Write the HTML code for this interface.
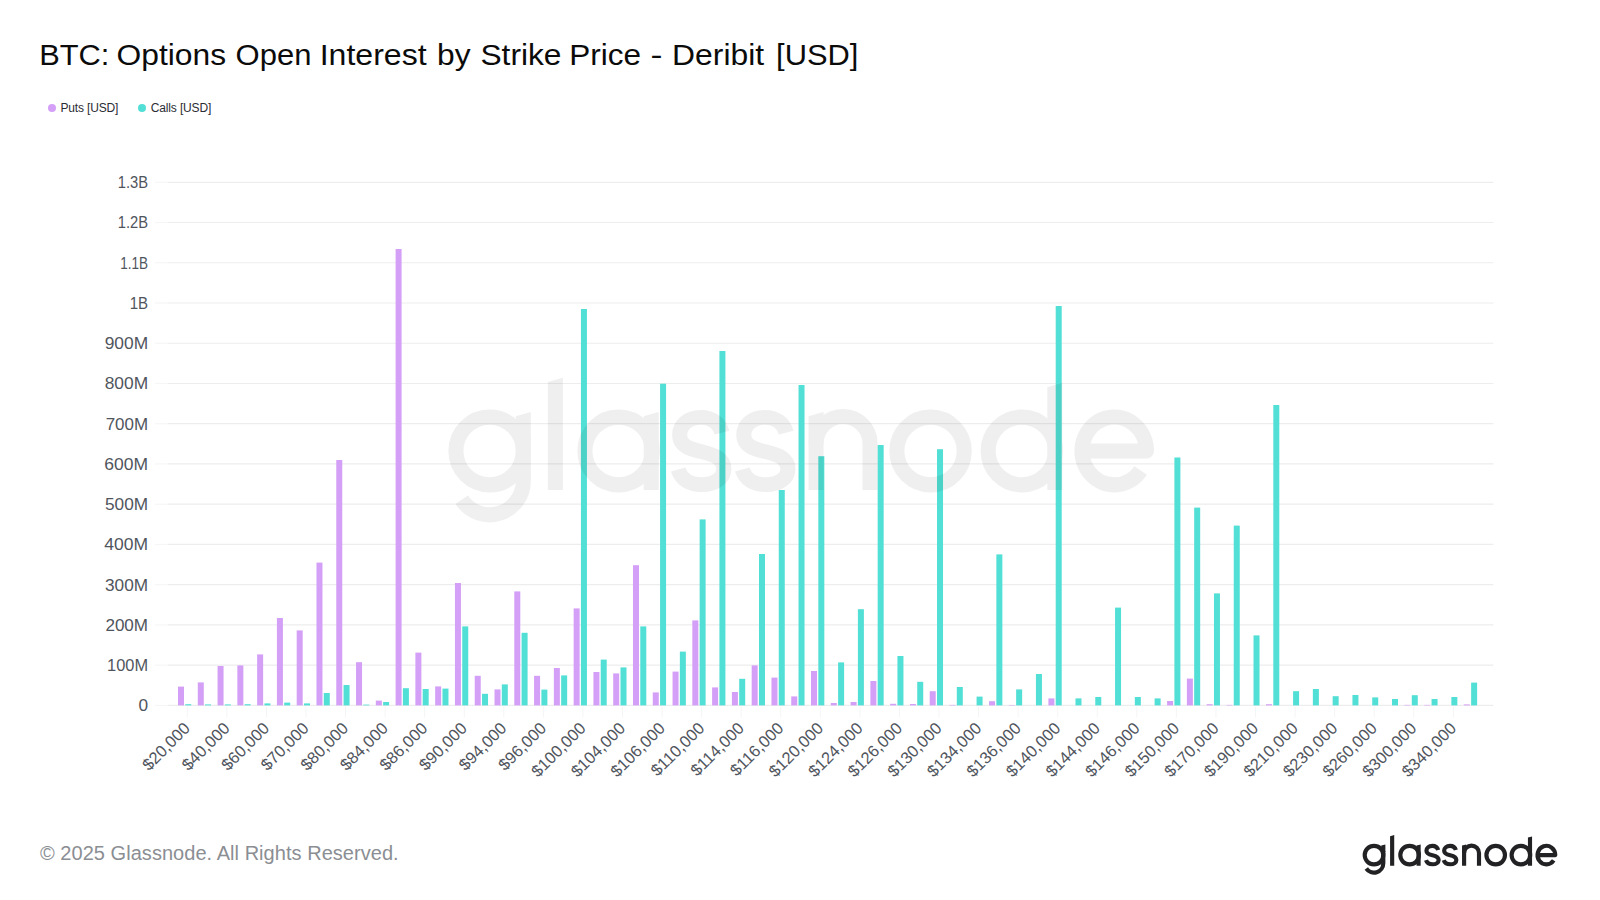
<!DOCTYPE html><html><head><meta charset="utf-8"><title>BTC: Options Open Interest by Strike Price</title>
<style>html,body{margin:0;padding:0;background:#fff;}body{width:1600px;height:900px;overflow:hidden;}svg{display:block;}text{font-family:"Liberation Sans",sans-serif;}</style></head><body>
<svg width="1600" height="900" viewBox="0 0 1600 900">
<defs><g id="wm" fill="none" stroke="currentColor" stroke-width="4.15" stroke-linecap="butt" stroke-linejoin="round"><circle cx="1374.0" cy="855.1" r="9.3"/>
<path fill="currentColor" stroke="none" d="M1381.23,845.6 L1385.37,844.4 V852 H1381.23 Z"/>
<path d="M1383.3,851 V863.3 A9.3,9.3 0 0 1 1366.29,868.50"/>
<path fill="currentColor" stroke="none" d="M1390.0800000000002,836.2 L1394.22,835.0 V865.8 H1390.0800000000002 Z"/>
<circle cx="1409.6" cy="855.1" r="9.3"/>
<path fill="currentColor" stroke="none" d="M1416.53,845.6 L1420.6699999999998,844.4 V865.8 H1416.53 Z"/>
<path transform="translate(-0.15,23.943) scale(1,0.972)" d="M1438.3,849.9 C1437.6,847.3 1435.5,845.6 1432.5,845.6 C1429.0,845.6 1426.6,847.7 1426.6,850.6 C1426.6,853.4 1428.8,854.4 1432.6,855.3 C1436.6,856.3 1438.8,857.4 1438.8,860.1 C1438.8,862.8 1436.3,864.6 1432.7,864.6 C1429.4,864.6 1427.0,863.1 1426.2,860.3"/>
<path transform="translate(17.55,23.943) scale(1,0.972)" d="M1438.3,849.9 C1437.6,847.3 1435.5,845.6 1432.5,845.6 C1429.0,845.6 1426.6,847.7 1426.6,850.6 C1426.6,853.4 1428.8,854.4 1432.6,855.3 C1436.6,856.3 1438.8,857.4 1438.8,860.1 C1438.8,862.8 1436.3,864.6 1432.7,864.6 C1429.4,864.6 1427.0,863.1 1426.2,860.3"/>
<path fill="currentColor" stroke="none" d="M1462.03,845.6 L1466.1699999999998,844.4 V865.8 H1462.03 Z"/>
<path d="M1464.1,853.1 A7.45,7.45 0 0 1 1479.0,853.1 V865.8"/>
<circle cx="1495.7" cy="855.1" r="9.3"/>
<circle cx="1520.9" cy="855.1" r="9.3"/>
<path fill="currentColor" stroke="none" d="M1527.93,837.6 L1532.07,836.4 V865.8 H1527.93 Z"/>
<path d="M1537.5,855.1 H1555.3000000000002 A8.9,9.3 0 1 0 1553.69,860.43"/></g></defs>
<rect width="1600" height="900" fill="#fff"/>
<text x="39.16" y="64.7" font-size="29.5" textLength="70.20" lengthAdjust="spacingAndGlyphs" fill="#0b0b0b">BTC:</text>
<text x="116.54" y="64.7" font-size="29.5" textLength="109.50" lengthAdjust="spacingAndGlyphs" fill="#0b0b0b">Options</text>
<text x="235.54" y="64.7" font-size="29.5" textLength="75.86" lengthAdjust="spacingAndGlyphs" fill="#0b0b0b">Open</text>
<text x="319.66" y="64.7" font-size="29.5" textLength="106.98" lengthAdjust="spacingAndGlyphs" fill="#0b0b0b">Interest</text>
<text x="437.06" y="64.7" font-size="29.5" textLength="33.52" lengthAdjust="spacingAndGlyphs" fill="#0b0b0b">by</text>
<text x="480.46" y="64.7" font-size="29.5" textLength="81.02" lengthAdjust="spacingAndGlyphs" fill="#0b0b0b">Strike</text>
<text x="569.16" y="64.7" font-size="29.5" textLength="71.80" lengthAdjust="spacingAndGlyphs" fill="#0b0b0b">Price</text>
<text x="650.52" y="64.7" font-size="29.5" textLength="11.94" lengthAdjust="spacingAndGlyphs" fill="#0b0b0b">-</text>
<text x="672.10" y="64.7" font-size="29.5" textLength="92.00" lengthAdjust="spacingAndGlyphs" fill="#0b0b0b">Deribit</text>
<text x="776.10" y="64.7" font-size="29.5" textLength="82.30" lengthAdjust="spacingAndGlyphs" fill="#0b0b0b">[USD]</text>
<circle cx="52" cy="108" r="4" fill="#d49ff7"/>
<text x="60.4" y="112.0" font-size="12" letter-spacing="-0.15" fill="#2a2d33">Puts [USD]</text>
<circle cx="142" cy="108" r="4" fill="#52dfd5"/>
<text x="150.8" y="112.0" font-size="12" letter-spacing="-0.15" fill="#2a2d33">Calls [USD]</text>
<g stroke="#ededed" stroke-width="1.2">
<line x1="168" x2="1493.4" y1="705.40" y2="705.40"/>
<line x1="155" x2="168" y1="705.40" y2="705.40" stroke="#f6f6f6"/>
<line x1="168" x2="1493.4" y1="665.16" y2="665.16"/>
<line x1="155" x2="168" y1="665.16" y2="665.16" stroke="#f6f6f6"/>
<line x1="168" x2="1493.4" y1="624.92" y2="624.92"/>
<line x1="155" x2="168" y1="624.92" y2="624.92" stroke="#f6f6f6"/>
<line x1="168" x2="1493.4" y1="584.68" y2="584.68"/>
<line x1="155" x2="168" y1="584.68" y2="584.68" stroke="#f6f6f6"/>
<line x1="168" x2="1493.4" y1="544.44" y2="544.44"/>
<line x1="155" x2="168" y1="544.44" y2="544.44" stroke="#f6f6f6"/>
<line x1="168" x2="1493.4" y1="504.20" y2="504.20"/>
<line x1="155" x2="168" y1="504.20" y2="504.20" stroke="#f6f6f6"/>
<line x1="168" x2="1493.4" y1="463.96" y2="463.96"/>
<line x1="155" x2="168" y1="463.96" y2="463.96" stroke="#f6f6f6"/>
<line x1="168" x2="1493.4" y1="423.72" y2="423.72"/>
<line x1="155" x2="168" y1="423.72" y2="423.72" stroke="#f6f6f6"/>
<line x1="168" x2="1493.4" y1="383.48" y2="383.48"/>
<line x1="155" x2="168" y1="383.48" y2="383.48" stroke="#f6f6f6"/>
<line x1="168" x2="1493.4" y1="343.24" y2="343.24"/>
<line x1="155" x2="168" y1="343.24" y2="343.24" stroke="#f6f6f6"/>
<line x1="168" x2="1493.4" y1="303.00" y2="303.00"/>
<line x1="155" x2="168" y1="303.00" y2="303.00" stroke="#f6f6f6"/>
<line x1="168" x2="1493.4" y1="262.76" y2="262.76"/>
<line x1="155" x2="168" y1="262.76" y2="262.76" stroke="#f6f6f6"/>
<line x1="168" x2="1493.4" y1="222.52" y2="222.52"/>
<line x1="155" x2="168" y1="222.52" y2="222.52" stroke="#f6f6f6"/>
<line x1="168" x2="1493.4" y1="182.28" y2="182.28"/>
<line x1="155" x2="168" y1="182.28" y2="182.28" stroke="#f6f6f6"/>
</g>
<g stroke="#f5f5f5" stroke-width="1">
<line x1="187.30" x2="187.30" y1="706.5" y2="717.5"/>
<line x1="226.86" x2="226.86" y1="706.5" y2="717.5"/>
<line x1="266.43" x2="266.43" y1="706.5" y2="717.5"/>
<line x1="305.99" x2="305.99" y1="706.5" y2="717.5"/>
<line x1="345.56" x2="345.56" y1="706.5" y2="717.5"/>
<line x1="385.12" x2="385.12" y1="706.5" y2="717.5"/>
<line x1="424.68" x2="424.68" y1="706.5" y2="717.5"/>
<line x1="464.25" x2="464.25" y1="706.5" y2="717.5"/>
<line x1="503.81" x2="503.81" y1="706.5" y2="717.5"/>
<line x1="543.38" x2="543.38" y1="706.5" y2="717.5"/>
<line x1="582.94" x2="582.94" y1="706.5" y2="717.5"/>
<line x1="622.50" x2="622.50" y1="706.5" y2="717.5"/>
<line x1="662.07" x2="662.07" y1="706.5" y2="717.5"/>
<line x1="701.63" x2="701.63" y1="706.5" y2="717.5"/>
<line x1="741.20" x2="741.20" y1="706.5" y2="717.5"/>
<line x1="780.76" x2="780.76" y1="706.5" y2="717.5"/>
<line x1="820.32" x2="820.32" y1="706.5" y2="717.5"/>
<line x1="859.89" x2="859.89" y1="706.5" y2="717.5"/>
<line x1="899.45" x2="899.45" y1="706.5" y2="717.5"/>
<line x1="939.02" x2="939.02" y1="706.5" y2="717.5"/>
<line x1="978.58" x2="978.58" y1="706.5" y2="717.5"/>
<line x1="1018.14" x2="1018.14" y1="706.5" y2="717.5"/>
<line x1="1057.71" x2="1057.71" y1="706.5" y2="717.5"/>
<line x1="1097.27" x2="1097.27" y1="706.5" y2="717.5"/>
<line x1="1136.84" x2="1136.84" y1="706.5" y2="717.5"/>
<line x1="1176.40" x2="1176.40" y1="706.5" y2="717.5"/>
<line x1="1215.96" x2="1215.96" y1="706.5" y2="717.5"/>
<line x1="1255.53" x2="1255.53" y1="706.5" y2="717.5"/>
<line x1="1295.09" x2="1295.09" y1="706.5" y2="717.5"/>
<line x1="1334.66" x2="1334.66" y1="706.5" y2="717.5"/>
<line x1="1374.22" x2="1374.22" y1="706.5" y2="717.5"/>
<line x1="1413.78" x2="1413.78" y1="706.5" y2="717.5"/>
<line x1="1453.35" x2="1453.35" y1="706.5" y2="717.5"/>
</g>
<g font-size="16.5" letter-spacing="0.0" fill="#50555d" text-anchor="end">
<text x="148.1" y="711.30" textLength="9.6" lengthAdjust="spacingAndGlyphs">0</text>
<text x="148.1" y="671.06" textLength="41.0" lengthAdjust="spacingAndGlyphs">100M</text>
<text x="148.1" y="630.82" textLength="42.7" lengthAdjust="spacingAndGlyphs">200M</text>
<text x="148.1" y="590.58" textLength="43.1" lengthAdjust="spacingAndGlyphs">300M</text>
<text x="148.1" y="550.34" textLength="43.8" lengthAdjust="spacingAndGlyphs">400M</text>
<text x="148.1" y="510.10" textLength="43.1" lengthAdjust="spacingAndGlyphs">500M</text>
<text x="148.1" y="469.86" textLength="43.8" lengthAdjust="spacingAndGlyphs">600M</text>
<text x="148.1" y="429.62" textLength="42.4" lengthAdjust="spacingAndGlyphs">700M</text>
<text x="148.1" y="389.38" textLength="43.4" lengthAdjust="spacingAndGlyphs">800M</text>
<text x="148.1" y="349.14" textLength="43.4" lengthAdjust="spacingAndGlyphs">900M</text>
<text x="148.1" y="308.90" textLength="18.4" lengthAdjust="spacingAndGlyphs">1B</text>
<text x="148.1" y="268.66" textLength="27.8" lengthAdjust="spacingAndGlyphs">1.1B</text>
<text x="148.1" y="228.42" textLength="30.3" lengthAdjust="spacingAndGlyphs">1.2B</text>
<text x="148.1" y="188.18" textLength="30.3" lengthAdjust="spacingAndGlyphs">1.3B</text>
</g>
<g fill="#d49ff7">
<rect x="178.00" y="686.60" width="6.0" height="18.80"/>
<rect x="197.78" y="682.40" width="6.0" height="23.00"/>
<rect x="217.56" y="666.00" width="6.0" height="39.40"/>
<rect x="237.35" y="665.40" width="6.0" height="40.00"/>
<rect x="257.13" y="654.40" width="6.0" height="51.00"/>
<rect x="276.91" y="618.00" width="6.0" height="87.40"/>
<rect x="296.69" y="630.40" width="6.0" height="75.00"/>
<rect x="316.47" y="562.60" width="6.0" height="142.80"/>
<rect x="336.26" y="460.00" width="6.0" height="245.40"/>
<rect x="356.04" y="662.20" width="6.0" height="43.20"/>
<rect x="375.82" y="700.60" width="6.0" height="4.80"/>
<rect x="395.60" y="249.00" width="6.0" height="456.40"/>
<rect x="415.38" y="652.60" width="6.0" height="52.80"/>
<rect x="435.17" y="686.40" width="6.0" height="19.00"/>
<rect x="454.95" y="583.00" width="6.0" height="122.40"/>
<rect x="474.73" y="675.80" width="6.0" height="29.60"/>
<rect x="494.51" y="689.40" width="6.0" height="16.00"/>
<rect x="514.29" y="591.40" width="6.0" height="114.00"/>
<rect x="534.08" y="675.80" width="6.0" height="29.60"/>
<rect x="553.86" y="668.00" width="6.0" height="37.40"/>
<rect x="573.64" y="608.40" width="6.0" height="97.00"/>
<rect x="593.42" y="672.00" width="6.0" height="33.40"/>
<rect x="613.20" y="673.40" width="6.0" height="32.00"/>
<rect x="632.99" y="565.20" width="6.0" height="140.20"/>
<rect x="652.77" y="692.40" width="6.0" height="13.00"/>
<rect x="672.55" y="671.60" width="6.0" height="33.80"/>
<rect x="692.33" y="620.40" width="6.0" height="85.00"/>
<rect x="712.11" y="687.40" width="6.0" height="18.00"/>
<rect x="731.90" y="692.00" width="6.0" height="13.40"/>
<rect x="751.68" y="665.40" width="6.0" height="40.00"/>
<rect x="771.46" y="677.60" width="6.0" height="27.80"/>
<rect x="791.24" y="696.40" width="6.0" height="9.00"/>
<rect x="811.02" y="671.00" width="6.0" height="34.40"/>
<rect x="830.81" y="703.00" width="6.0" height="2.40"/>
<rect x="850.59" y="702.00" width="6.0" height="3.40"/>
<rect x="870.37" y="681.00" width="6.0" height="24.40"/>
<rect x="890.15" y="703.80" width="6.0" height="1.60"/>
<rect x="909.93" y="704.00" width="6.0" height="1.40"/>
<rect x="929.72" y="691.20" width="6.0" height="14.20"/>
<rect x="949.50" y="704.90" width="6.0" height="0.50"/>
<rect x="989.06" y="701.20" width="6.0" height="4.20"/>
<rect x="1008.84" y="705.00" width="6.0" height="0.40"/>
<rect x="1048.41" y="698.40" width="6.0" height="7.00"/>
<rect x="1167.10" y="701.00" width="6.0" height="4.40"/>
<rect x="1186.88" y="678.60" width="6.0" height="26.80"/>
<rect x="1206.66" y="704.20" width="6.0" height="1.20"/>
<rect x="1226.45" y="704.90" width="6.0" height="0.50"/>
<rect x="1266.01" y="704.20" width="6.0" height="1.20"/>
<rect x="1404.48" y="704.90" width="6.0" height="0.50"/>
<rect x="1424.27" y="704.90" width="6.0" height="0.50"/>
<rect x="1463.83" y="704.40" width="6.0" height="1.00"/>
</g>
<g fill="#52dfd5">
<rect x="185.30" y="704.20" width="6.0" height="1.20"/>
<rect x="205.08" y="704.40" width="6.0" height="1.00"/>
<rect x="224.86" y="704.40" width="6.0" height="1.00"/>
<rect x="244.65" y="704.20" width="6.0" height="1.20"/>
<rect x="264.43" y="703.40" width="6.0" height="2.00"/>
<rect x="284.21" y="702.60" width="6.0" height="2.80"/>
<rect x="303.99" y="703.40" width="6.0" height="2.00"/>
<rect x="323.77" y="693.00" width="6.0" height="12.40"/>
<rect x="343.56" y="685.00" width="6.0" height="20.40"/>
<rect x="363.34" y="704.60" width="6.0" height="0.80"/>
<rect x="383.12" y="702.00" width="6.0" height="3.40"/>
<rect x="402.90" y="688.20" width="6.0" height="17.20"/>
<rect x="422.68" y="689.00" width="6.0" height="16.40"/>
<rect x="442.47" y="688.60" width="6.0" height="16.80"/>
<rect x="462.25" y="626.40" width="6.0" height="79.00"/>
<rect x="482.03" y="693.80" width="6.0" height="11.60"/>
<rect x="501.81" y="684.40" width="6.0" height="21.00"/>
<rect x="521.59" y="632.80" width="6.0" height="72.60"/>
<rect x="541.38" y="689.60" width="6.0" height="15.80"/>
<rect x="561.16" y="675.40" width="6.0" height="30.00"/>
<rect x="580.94" y="309.00" width="6.0" height="396.40"/>
<rect x="600.72" y="659.60" width="6.0" height="45.80"/>
<rect x="620.50" y="667.40" width="6.0" height="38.00"/>
<rect x="640.29" y="626.40" width="6.0" height="79.00"/>
<rect x="660.07" y="383.70" width="6.0" height="321.70"/>
<rect x="679.85" y="651.60" width="6.0" height="53.80"/>
<rect x="699.63" y="519.40" width="6.0" height="186.00"/>
<rect x="719.41" y="351.00" width="6.0" height="354.40"/>
<rect x="739.20" y="678.80" width="6.0" height="26.60"/>
<rect x="758.98" y="554.00" width="6.0" height="151.40"/>
<rect x="778.76" y="490.00" width="6.0" height="215.40"/>
<rect x="798.54" y="385.00" width="6.0" height="320.40"/>
<rect x="818.32" y="456.20" width="6.0" height="249.20"/>
<rect x="838.11" y="662.40" width="6.0" height="43.00"/>
<rect x="857.89" y="609.20" width="6.0" height="96.20"/>
<rect x="877.67" y="445.00" width="6.0" height="260.40"/>
<rect x="897.45" y="656.00" width="6.0" height="49.40"/>
<rect x="917.23" y="681.80" width="6.0" height="23.60"/>
<rect x="937.02" y="449.20" width="6.0" height="256.20"/>
<rect x="956.80" y="687.00" width="6.0" height="18.40"/>
<rect x="976.58" y="696.60" width="6.0" height="8.80"/>
<rect x="996.36" y="554.40" width="6.0" height="151.00"/>
<rect x="1016.14" y="689.40" width="6.0" height="16.00"/>
<rect x="1035.93" y="674.00" width="6.0" height="31.40"/>
<rect x="1055.71" y="306.00" width="6.0" height="399.40"/>
<rect x="1075.49" y="698.40" width="6.0" height="7.00"/>
<rect x="1095.27" y="697.00" width="6.0" height="8.40"/>
<rect x="1115.05" y="607.60" width="6.0" height="97.80"/>
<rect x="1134.84" y="697.00" width="6.0" height="8.40"/>
<rect x="1154.62" y="698.40" width="6.0" height="7.00"/>
<rect x="1174.40" y="457.50" width="6.0" height="247.90"/>
<rect x="1194.18" y="507.60" width="6.0" height="197.80"/>
<rect x="1213.96" y="593.40" width="6.0" height="112.00"/>
<rect x="1233.75" y="525.60" width="6.0" height="179.80"/>
<rect x="1253.53" y="635.40" width="6.0" height="70.00"/>
<rect x="1273.31" y="405.00" width="6.0" height="300.40"/>
<rect x="1293.09" y="691.20" width="6.0" height="14.20"/>
<rect x="1312.87" y="689.00" width="6.0" height="16.40"/>
<rect x="1332.66" y="696.20" width="6.0" height="9.20"/>
<rect x="1352.44" y="695.00" width="6.0" height="10.40"/>
<rect x="1372.22" y="697.40" width="6.0" height="8.00"/>
<rect x="1392.00" y="699.00" width="6.0" height="6.40"/>
<rect x="1411.78" y="695.20" width="6.0" height="10.20"/>
<rect x="1431.57" y="699.00" width="6.0" height="6.40"/>
<rect x="1451.35" y="697.00" width="6.0" height="8.40"/>
<rect x="1471.13" y="682.60" width="6.0" height="22.80"/>
</g>
<use href="#wm" style="color:#000" opacity="0.059" transform="translate(-4488.38,-2667.57) scale(3.623,3.647)"/>
<g font-size="16.5" letter-spacing="0.0" fill="#50555d" text-anchor="end">
<text transform="translate(191.10,729.3) rotate(-45)">$20,000</text>
<text transform="translate(230.66,729.3) rotate(-45)">$40,000</text>
<text transform="translate(270.23,729.3) rotate(-45)">$60,000</text>
<text transform="translate(309.79,729.3) rotate(-45)">$70,000</text>
<text transform="translate(349.36,729.3) rotate(-45)">$80,000</text>
<text transform="translate(388.92,729.3) rotate(-45)">$84,000</text>
<text transform="translate(428.48,729.3) rotate(-45)">$86,000</text>
<text transform="translate(468.05,729.3) rotate(-45)">$90,000</text>
<text transform="translate(507.61,729.3) rotate(-45)">$94,000</text>
<text transform="translate(547.18,729.3) rotate(-45)">$96,000</text>
<text transform="translate(586.74,729.3) rotate(-45)">$100,000</text>
<text transform="translate(626.30,729.3) rotate(-45)">$104,000</text>
<text transform="translate(665.87,729.3) rotate(-45)">$106,000</text>
<text transform="translate(705.43,729.3) rotate(-45)">$110,000</text>
<text transform="translate(745.00,729.3) rotate(-45)">$114,000</text>
<text transform="translate(784.56,729.3) rotate(-45)">$116,000</text>
<text transform="translate(824.12,729.3) rotate(-45)">$120,000</text>
<text transform="translate(863.69,729.3) rotate(-45)">$124,000</text>
<text transform="translate(903.25,729.3) rotate(-45)">$126,000</text>
<text transform="translate(942.82,729.3) rotate(-45)">$130,000</text>
<text transform="translate(982.38,729.3) rotate(-45)">$134,000</text>
<text transform="translate(1021.94,729.3) rotate(-45)">$136,000</text>
<text transform="translate(1061.51,729.3) rotate(-45)">$140,000</text>
<text transform="translate(1101.07,729.3) rotate(-45)">$144,000</text>
<text transform="translate(1140.64,729.3) rotate(-45)">$146,000</text>
<text transform="translate(1180.20,729.3) rotate(-45)">$150,000</text>
<text transform="translate(1219.76,729.3) rotate(-45)">$170,000</text>
<text transform="translate(1259.33,729.3) rotate(-45)">$190,000</text>
<text transform="translate(1298.89,729.3) rotate(-45)">$210,000</text>
<text transform="translate(1338.46,729.3) rotate(-45)">$230,000</text>
<text transform="translate(1378.02,729.3) rotate(-45)">$260,000</text>
<text transform="translate(1417.58,729.3) rotate(-45)">$300,000</text>
<text transform="translate(1457.15,729.3) rotate(-45)">$340,000</text>
</g>
<text x="40" y="860" font-size="20" letter-spacing="0.04" fill="#8b8e93">© 2025 Glassnode. All Rights Reserved.</text>
<use href="#wm" style="color:#222224"/>
</svg></body></html>
